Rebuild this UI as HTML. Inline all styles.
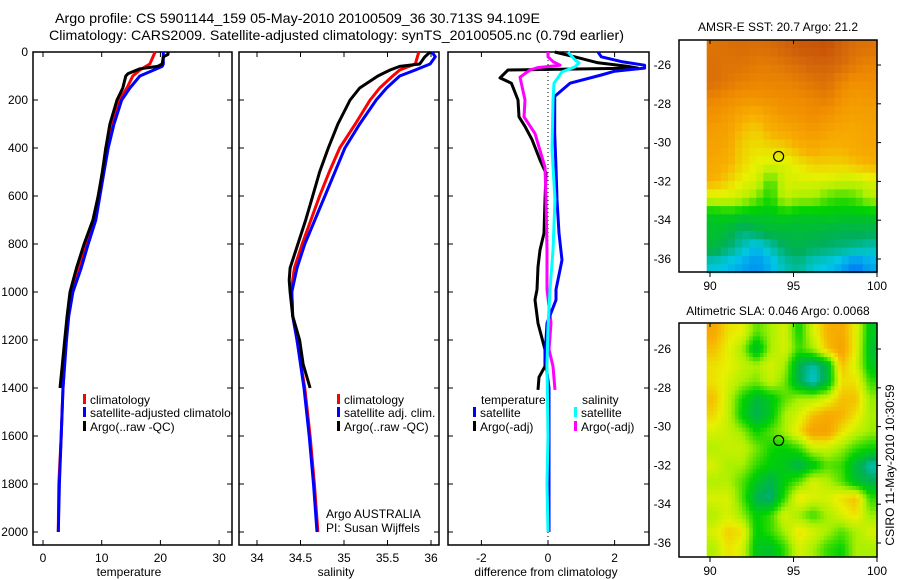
<!DOCTYPE html>
<html><head><meta charset="utf-8">
<style>
html,body{margin:0;padding:0;background:#fff;}
svg{display:block;font-family:"Liberation Sans",sans-serif;}
text{fill:#000;}
</style></head>
<body>
<svg id="chart" width="900" height="580" viewBox="0 0 900 580" xmlns="http://www.w3.org/2000/svg">
<defs><clipPath id="clipT"><rect x="33" y="52" width="199" height="493"/></clipPath></defs>
<text x="55" y="23" font-size="14" textLength="485" lengthAdjust="spacingAndGlyphs">Argo profile: CS 5901144_159 05-May-2010 20100509_36 30.713S 94.109E</text>
<text x="49" y="40" font-size="14" textLength="575" lengthAdjust="spacingAndGlyphs">Climatology: CARS2009. Satellite-adjusted climatology: synTS_20100505.nc (0.79d earlier)</text>
<text x="778" y="31" font-size="12" text-anchor="middle">AMSR-E SST: 20.7 Argo: 21.2</text>
<text x="778" y="315" font-size="12" text-anchor="middle">Altimetric SLA: 0.046 Argo: 0.0068</text>
<text transform="translate(894,465) rotate(-90)" font-size="12" text-anchor="middle">CSIRO 11-May-2010 10:30:59</text>
<text x="129" y="576" font-size="12" text-anchor="middle">temperature</text>
<text x="336" y="576" font-size="12" text-anchor="middle">salinity</text>
<text x="546" y="576" font-size="12" text-anchor="middle">difference from climatology</text>
<text x="326" y="518" font-size="12">Argo AUSTRALIA</text>
<text x="326" y="532" font-size="12">PI: Susan Wijffels</text>
<g id="layer"></g>
</svg>
<script>
// ---------- profile data ----------
const tempClimDepth = [0,50,75,100,150,200,300,400,500,600,700,800,900,1000,1100,1200,1400,1600,1800,2000];
const tempClim      = [19.1,18.2,16.5,15.3,14.3,13.0,11.9,10.7,10.2,9.4,8.7,7.3,6.2,5.0,4.3,3.9,3.4,3.1,2.7,2.6];
const tempSatDepth  = [0,50,60,100,150,200,300,400,500,600,700,800,900,1000,1100,1200,1400,1600,1800,2000];
const tempSat       = [20.5,20.5,20.3,16.5,14.8,13.4,12.1,11.1,10.4,9.7,9.0,7.7,6.5,5.1,4.4,4.0,3.4,3.1,2.8,2.6];
const tempArgoDepth = [0,10,20,50,60,70,90,100,150,200,300,400,500,600,700,800,900,1000,1100,1200,1300,1400];
const tempArgo      = [21.3,21.3,20.5,20.3,19.5,16.5,14.5,14.1,13.6,12.6,11.4,10.7,10.1,9.4,8.5,7.0,5.7,4.6,4.1,3.7,3.3,2.9];

const salClimDepth = [0,50,75,100,150,200,300,400,500,600,700,800,900,950,1000,1100,1200,1400,1600,1800,2000];
const salClim      = [35.86,35.82,35.64,35.56,35.41,35.30,35.13,34.95,34.83,34.72,34.62,34.52,34.43,34.41,34.40,34.41,34.46,34.55,34.61,34.66,34.70];
const salSatDepth  = [0,20,50,75,100,150,200,300,400,600,800,900,1000,1100,1200,1400,1600,1800,2000];
const salSat       = [36.01,36.05,35.99,35.82,35.64,35.49,35.37,35.18,35.01,34.78,34.55,34.46,34.40,34.41,34.46,34.54,34.60,34.65,34.69];
const salArgoDepth = [0,20,50,60,75,100,150,200,300,400,500,600,700,800,900,950,1000,1100,1200,1300,1400];
const salArgo      = [35.99,35.93,35.87,35.64,35.53,35.39,35.18,35.07,34.93,34.82,34.72,34.64,34.56,34.47,34.38,34.37,34.38,34.41,34.49,34.53,34.61];

const dTempSatDepth  = [0,20,40,55,67,80,96,130,185,340,480,615,755,867,990,1033,1130,1270,1400,1700,2000];
const dTempSat       = [1.5,1.6,2.2,2.9,2.9,2.0,1.6,0.66,0.2,0.2,0.24,0.27,0.33,0.42,0.24,0.24,-0.03,-0.09,0.03,0.03,0.03];
const dTempArgoDepth = [0,20,45,60,67,75,108,130,200,270,310,365,450,505,615,755,825,895,990,1033,1130,1240,1310,1355,1408];
const dTempArgo      = [0.2,0.8,1.5,2.4,2.7,-1.2,-1.44,-1.1,-0.9,-0.87,-0.69,-0.48,-0.24,-0.06,-0.09,-0.12,-0.24,-0.3,-0.33,-0.39,-0.3,-0.09,-0.09,-0.27,-0.3];
const dSalSatDepth   = [0,33,45,62,83,130,200,408,615,825,990,1150,1300,1600,1800,2000];
const dSalSat        = [0.6,0.81,0.93,0.81,0.42,0.18,0.15,0.12,0.21,0.15,0.06,0.0,-0.03,0.0,-0.03,0.0];
const dSalArgoDepth  = [0,20,40,55,65,75,105,200,270,340,410,480,615,825,990,1130,1240,1310,1408];
const dSalArgo       = [0.0,0.0,0.15,0.36,-0.3,-0.54,-0.84,-0.69,-0.72,-0.39,-0.24,-0.09,-0.06,-0.03,-0.03,0.09,0.03,0.15,0.21];

// ---------- map data (values 0..1 on colour scale) ----------
const sstRows = [
 [0.86,0.87,0.88,0.87,0.88,0.90,0.92,0.92,0.93,0.90,0.87,0.86],
 [0.87,0.86,0.86,0.84,0.84,0.86,0.88,0.90,0.90,0.88,0.84,0.82],
 [0.87,0.85,0.83,0.82,0.82,0.82,0.84,0.86,0.87,0.82,0.79,0.80],
 [0.82,0.80,0.78,0.78,0.79,0.80,0.80,0.82,0.84,0.78,0.76,0.77],
 [0.78,0.76,0.72,0.70,0.74,0.77,0.78,0.80,0.78,0.75,0.74,0.75],
 [0.75,0.74,0.68,0.66,0.70,0.72,0.74,0.76,0.74,0.72,0.72,0.74],
 [0.74,0.72,0.66,0.64,0.65,0.66,0.70,0.72,0.70,0.70,0.72,0.73],
 [0.72,0.70,0.65,0.62,0.60,0.60,0.63,0.66,0.66,0.66,0.68,0.70],
 [0.70,0.66,0.62,0.60,0.48,0.60,0.60,0.60,0.60,0.58,0.58,0.60],
 [0.60,0.60,0.58,0.52,0.46,0.58,0.55,0.55,0.50,0.48,0.50,0.56],
 [0.42,0.44,0.42,0.42,0.42,0.44,0.42,0.42,0.43,0.42,0.42,0.42],
 [0.40,0.38,0.33,0.36,0.38,0.38,0.38,0.38,0.37,0.36,0.36,0.36],
 [0.38,0.34,0.30,0.25,0.30,0.35,0.37,0.35,0.34,0.33,0.32,0.30],
 [0.28,0.26,0.24,0.22,0.25,0.30,0.32,0.28,0.27,0.24,0.20,0.24]
];
const slaRows = [
 [0.72,0.64,0.62,0.50,0.55,0.60,0.45,0.60,0.70,0.72,0.62,0.42],
 [0.68,0.62,0.55,0.38,0.55,0.60,0.48,0.55,0.68,0.74,0.62,0.40],
 [0.64,0.62,0.58,0.55,0.60,0.55,0.36,0.30,0.38,0.68,0.60,0.42],
 [0.64,0.60,0.55,0.52,0.58,0.52,0.36,0.28,0.38,0.64,0.64,0.48],
 [0.68,0.58,0.46,0.38,0.42,0.50,0.55,0.56,0.60,0.68,0.68,0.54],
 [0.65,0.58,0.44,0.36,0.42,0.55,0.60,0.68,0.72,0.70,0.64,0.55],
 [0.60,0.58,0.54,0.45,0.50,0.55,0.64,0.74,0.74,0.64,0.58,0.54],
 [0.56,0.58,0.58,0.52,0.46,0.44,0.48,0.58,0.58,0.54,0.48,0.45],
 [0.60,0.55,0.55,0.48,0.44,0.42,0.36,0.42,0.50,0.48,0.38,0.30],
 [0.56,0.56,0.50,0.42,0.36,0.44,0.50,0.60,0.56,0.50,0.40,0.36],
 [0.60,0.60,0.50,0.36,0.33,0.48,0.64,0.60,0.60,0.64,0.68,0.48],
 [0.56,0.60,0.54,0.44,0.48,0.60,0.54,0.48,0.55,0.60,0.64,0.54],
 [0.60,0.66,0.64,0.44,0.48,0.55,0.64,0.60,0.55,0.50,0.55,0.60],
 [0.56,0.64,0.60,0.42,0.40,0.48,0.60,0.55,0.48,0.45,0.55,0.55]
];
const argoLon = 94.109, argoLat = -30.713;
const depthTicks = [0,200,400,600,800,1000,1200,1400,1600,1800,2000];
const tempTicks = [0,10,20,30];
const salTicks = [34,34.5,35,35.5,36];
const diffTicks = [-2,0,2];
const lonTicks = [90,95,100];
const latTicks = [-26,-28,-30,-32,-34,-36];

// ---------- scales ----------
const yD = d => 52 + d*0.24;
const xT = t => 43 + t*5.87;
const xS = s => 257 + (s-34)*87;
const xDf = v => 548 + v*33.3;
const xL = l => 710 + (l-90)*16.7;
const yA = la => 65 + (-26-la)*19.4;
const yB = la => 349 + (-26-la)*19.4;

const NS='http://www.w3.org/2000/svg';
const layer=document.getElementById('layer');
function mk(tag,attrs,parent){const e=document.createElementNS(NS,tag);for(const k in attrs)e.setAttribute(k,attrs[k]);(parent||layer).appendChild(e);return e;}

function frame(x0,y0,x1,y1,name){
  const r=mk('rect',{x:x0,y:y0,width:x1-x0,height:y1-y0,fill:'none',stroke:'#000','stroke-width':1.5});
  
  
}
function series(ds,vs,xf,color,name){
  const pts=ds.map((d,i)=>xf(vs[i]).toFixed(1)+','+yD(d).toFixed(1)).join(' ');
  const p=mk('polyline',{points:pts,fill:'none',stroke:color,'stroke-width':3,'stroke-linejoin':'round'});
  
  
}
function label(x,y,txt,anchor,name,size,parent){
  const t=mk('text',{x:x,y:y,'font-size':size||12,'text-anchor':anchor||'start'},parent);
  t.textContent=txt;
  
  
}
function tick(x1,y1,x2,y2){
  const l=mk('line',{x1:x1,y1:y1,x2:x2,y2:y2,stroke:'#000','stroke-width':1});
  
  
}

const stops=[[0,[0,0,150]],[0.15,[0,70,255]],[0.27,[0,200,230]],[0.35,[0,175,90]],[0.45,[0,210,0]],[0.55,[170,240,0]],[0.62,[232,240,0]],[0.70,[248,176,0]],[0.80,[240,140,0]],[0.90,[210,100,10]],[1,[175,40,0]]];
function cmap(v){
  for(let i=1;i<stops.length;i++){ if(v<=stops[i][0]){const a=stops[i-1],b=stops[i];const f=(v-a[0])/(b[0]-a[0]);const c=a[1].map((c0,k)=>Math.round(c0+(b[1][k]-c0)*f));return 'rgb('+c.join(',')+')';}}
  return 'rgb(175,40,0)';
}

const panels=[
 {x0:33,x1:232,xf:xT,ticks:tempTicks,name:'temperature-panel'},
 {x0:239,x1:439,xf:xS,ticks:salTicks,name:'salinity-panel'},
 {x0:448,x1:649,xf:xDf,ticks:diffTicks,name:'difference-panel'}
];
panels.forEach(p=>{
  frame(p.x0,52,p.x1,545,p.name+'-frame');
  depthTicks.forEach(d=>{tick(p.x0,yD(d),p.x0+5,yD(d));tick(p.x1,yD(d),p.x1-5,yD(d));});
  p.ticks.forEach(t=>{const x=p.xf(t);tick(x,545,x,540);tick(x,52,x,57);label(x,562,String(t),'middle','x-tick-label');});
});
depthTicks.forEach(d=>label(28,yD(d)+4,String(d),'end','depth-tick-label'));

const zl=mk('line',{x1:xDf(0),y1:52,x2:xDf(0),y2:545,stroke:'#000','stroke-width':1,'stroke-dasharray':'1,3'});



series(tempClimDepth,tempClim,xT,'#ff0000','temp-climatology-line');
series(tempSatDepth,tempSat,xT,'#0000ff','temp-satellite-line');
series(tempArgoDepth,tempArgo,xT,'#000000','temp-argo-line');
series(salClimDepth,salClim,xS,'#ff0000','sal-climatology-line');
series(salSatDepth,salSat,xS,'#0000ff','sal-satellite-line');
series(salArgoDepth,salArgo,xS,'#000000','sal-argo-line');
series(dTempArgoDepth,dTempArgo,xDf,'#000000','diff-temp-argo-line');
series(dSalArgoDepth,dSalArgo,xDf,'#ff00ff','diff-sal-argo-line');
series(dTempSatDepth,dTempSat,xDf,'#0000ff','diff-temp-satellite-line');
series(dSalSatDepth,dSalSat,xDf,'#00ffff','diff-sal-satellite-line');

function legendEntry(x,y,color,txt,parent){
  const r=mk('rect',{x:x,y:y-10,width:3,height:10,fill:color},parent);
  
  
  label(x+7,y,txt,'start','legend-entry',12,parent);
}
const clipG=mk('g',{'clip-path':'url(#clipT)'});


legendEntry(83,404,'#ff0000','climatology',clipG);
legendEntry(83,417,'#0000ff','satellite-adjusted climatology',clipG);
legendEntry(83,431,'#000000','Argo(..raw -QC)',clipG);
legendEntry(337,404,'#ff0000','climatology');
legendEntry(337,417,'#0000ff','satellite adj. clim.');
legendEntry(337,431,'#000000','Argo(..raw -QC)');
label(481,404,'temperature','start','legend-heading');
label(582,404,'salinity','start','legend-heading');
legendEntry(473,417,'#0000ff','satellite');
legendEntry(473,431,'#000000','Argo(-adj)');
legendEntry(574,417,'#00ffff','satellite');
legendEntry(574,431,'#ff00ff','Argo(-adj)');

// maps; sub = display subdivision with bilinear smoothing
function sample(rows,fi,fj){
  const nr=rows.length,nc=rows[0].length;
  fi=Math.max(0,Math.min(nr-1,fi));fj=Math.max(0,Math.min(nc-1,fj));
  const i0=Math.floor(fi),j0=Math.floor(fj),i1=Math.min(nr-1,i0+1),j1=Math.min(nc-1,j0+1);
  const a=fi-i0,b=fj-j0;
  return rows[i0][j0]*(1-a)*(1-b)+rows[i0][j1]*(1-a)*b+rows[i1][j0]*a*(1-b)+rows[i1][j1]*a*b;
}
function drawMap(rows,yf,top,bot,name,sub){
  const nr=rows.length,nc=rows[0].length;
  const lat0=-24.7,lat1=-36.7,lon0=89.8,lon1=100;
  const NR=nr*sub,NC=nc*sub;
  const dlat=(lat0-lat1)/NR,dlon=(lon1-lon0)/NC;
  const g=mk('g',{});
  
  
  for(let i=0;i<NR;i++)for(let j=0;j<NC;j++){
    const v=sub===1?rows[i][j]:sample(rows,(i+0.5)/sub-0.5,(j+0.5)/sub-0.5);
    const x=xL(lon0+j*dlon),y=yf(lat0-i*dlat);
    const w=xL(lon0+(j+1)*dlon)-x,h=yf(lat0-(i+1)*dlat)-y;
    const c=mk('rect',{x:x.toFixed(1),y:y.toFixed(1),width:(w+0.6).toFixed(1),height:(h+0.6).toFixed(1),fill:cmap(v)},g);
    
    
  }
  frame(679,top,877,bot,name+'-frame');
  lonTicks.forEach(l=>{tick(xL(l),bot,xL(l),bot+5);tick(xL(l),top,xL(l),top+4);label(xL(l),bot+18,String(l),'middle','lon-tick-label');});
  latTicks.forEach(la=>{tick(877,yf(la),881,yf(la));label(671,yf(la)+4,String(la),'end','lat-tick-label');});
  const m=mk('circle',{cx:xL(argoLon),cy:yf(argoLat),r:5,fill:'none',stroke:'#000','stroke-width':1.2});
  
  
}
drawMap(sstRows,yA,40,272,'sst-map',2);
drawMap(slaRows,yB,323,557,'sla-map',4);
</script>
</body></html>
